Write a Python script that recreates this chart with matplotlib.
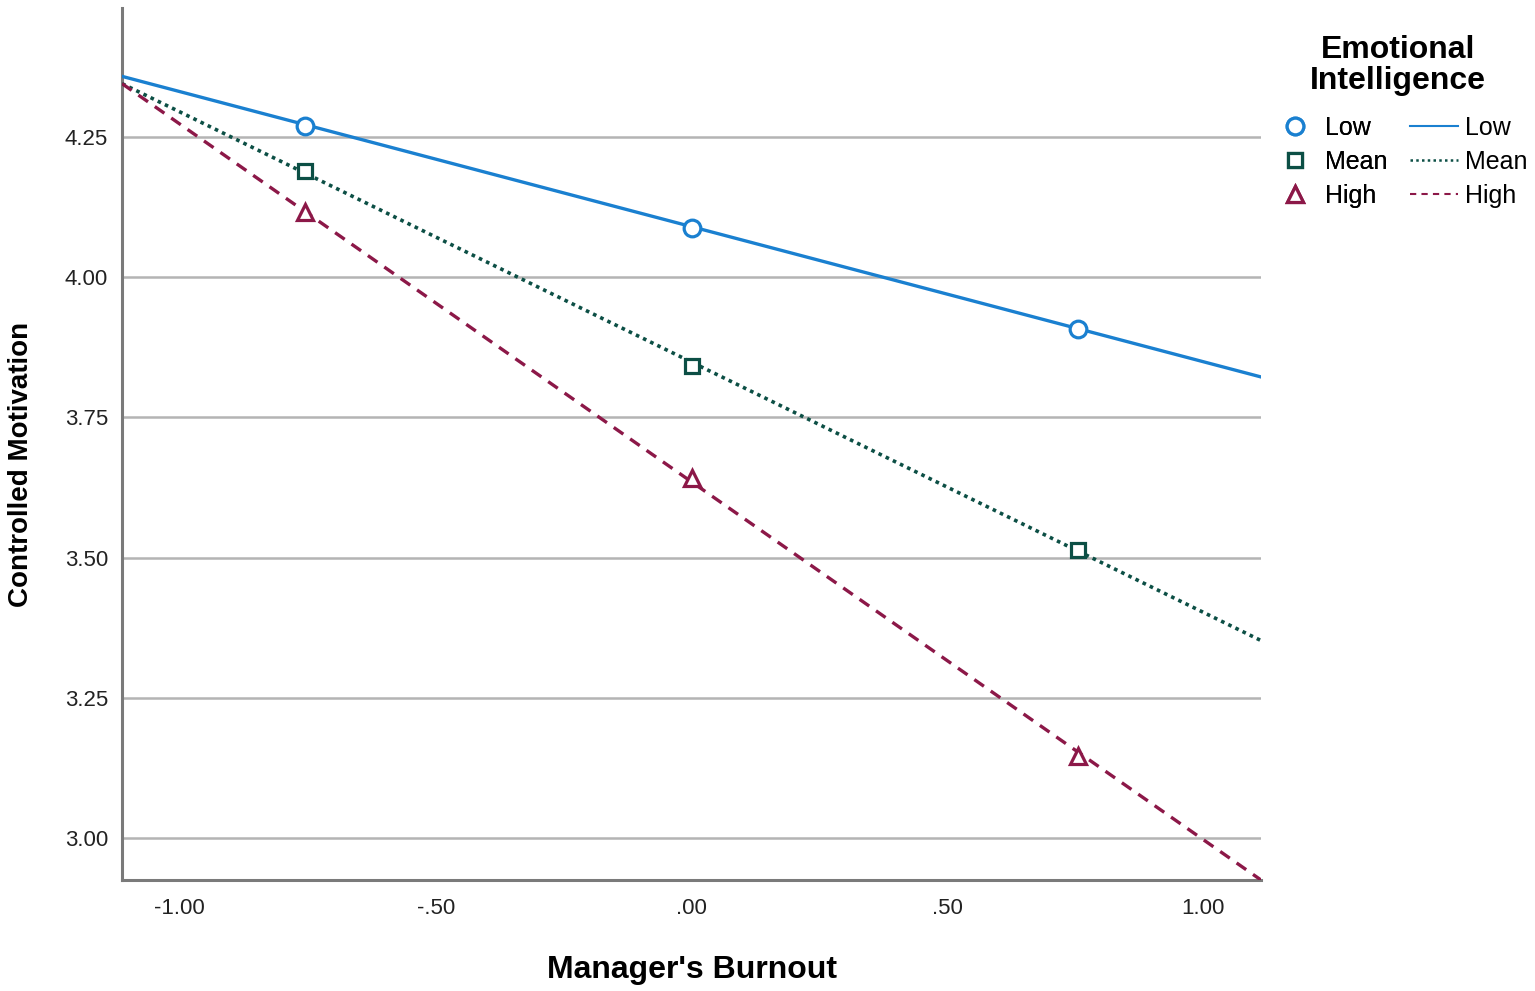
import numpy as np
import matplotlib
matplotlib.use("Agg")
import matplotlib.pyplot as plt
from matplotlib.lines import Line2D

plt.rcParams["font.family"] = ["Liberation Sans", "DejaVu Sans"]

# values
burnout_pts = [-0.755, 0.0, 0.755]
low_pts = [4.270, 4.088, 3.907]
mean_pts = [4.189, 3.841, 3.514]
high_pts = [4.116, 3.641, 3.146]

# fitted lines: value at left and right edge of the x range
line_x = [-1.113, 1.113]
low_line = [4.358, 3.822]
mean_line = [4.345, 3.352]
high_line = [4.345, 2.925]

group_names = ["Low", "Mean", "High"]
xticks = [-1.0, -0.5, 0.0, 0.5, 1.0]
xtick_labels = ["-1.00", "-.50", ".00", ".50", "1.00"]
yticks = [3.00, 3.25, 3.50, 3.75, 4.00, 4.25]

BLUE = "#1a80d0"
TEAL = "#0c4f45"
MAROON = "#8c1848"

fig = plt.figure(figsize=(15.35, 9.91), dpi=100)
ax = fig.add_axes([0.0795, 0.112, 0.742, 0.880])

for yv in yticks:
    ax.axhline(yv, color="#b4b4b4", lw=1.8, zorder=1)

ax.plot(line_x, low_line, color=BLUE, lw=2.4, ls="-", zorder=3)
ax.plot(line_x, mean_line, color=TEAL, lw=2.6, ls=(0, (1, 1.2)), zorder=3)
ax.plot(line_x, high_line, color=MAROON, lw=2.4, ls=(0, (3.5, 2.5)), zorder=3)

mk = dict(ls="none", mfc="white", mew=2.3, zorder=4)
ax.plot(burnout_pts, low_pts, marker="o", ms=12, mec=BLUE, **mk)
ax.plot(burnout_pts, mean_pts, marker="s", ms=10, mec=TEAL, **mk)
ax.plot(burnout_pts, high_pts, marker="^", ms=12, mec=MAROON, **mk)

ax.set_xlim(-1.113, 1.113)
ax.set_ylim(2.925, 4.48)
ax.set_xticks(xticks)
ax.set_xticklabels(xtick_labels)
ax.set_yticks(yticks)
ax.set_yticklabels([f"{v:.2f}" for v in yticks])
ax.tick_params(length=0, labelsize=16, labelcolor="#222222", pad=10)
ax.tick_params(axis="x", pad=13)

for s in ["top", "right"]:
    ax.spines[s].set_visible(False)
for s in ["left", "bottom"]:
    ax.spines[s].set_color("#7a7a7a")
    ax.spines[s].set_linewidth(2.2)

ax.set_xlabel("Manager's Burnout", fontsize=23, fontweight="bold", labelpad=26)
ax.set_ylabel("Controlled Motivation", fontsize=20, fontweight="bold", labelpad=22)
ax.yaxis.set_label_coords(-0.077, 0.477)

# legend: title, marker column, line column
fig.text(0.9107, 0.9496, "Emotional", ha="center", va="center",
         fontsize=23, fontweight="bold")
fig.text(0.9107, 0.9183, "Intelligence", ha="center", va="center",
         fontsize=23, fontweight="bold")

marker_handles = [
    Line2D([], [], ls="none", marker="o", ms=12, mfc="white", mec=BLUE, mew=2.3),
    Line2D([], [], ls="none", marker="s", ms=10, mfc="white", mec=TEAL, mew=2.3),
    Line2D([], [], ls="none", marker="^", ms=12, mfc="white", mec=MAROON, mew=2.3),
]
line_handles = [
    Line2D([], [], color=BLUE, lw=1.5, ls="-"),
    Line2D([], [], color=TEAL, lw=1.8, ls=(0, (1, 1.3))),
    Line2D([], [], color=MAROON, lw=1.5, ls=(0, (3, 2.5))),
]
leg1 = fig.legend(marker_handles, group_names, loc="upper left",
                  bbox_to_anchor=(0.8355, 0.883), frameon=False, fontsize=18,
                  handlelength=1.0, handletextpad=0.7, labelspacing=0.4,
                  borderaxespad=0, borderpad=0)
leg2 = fig.legend(line_handles, group_names, loc="upper left",
                  bbox_to_anchor=(0.9186, 0.883), frameon=False, fontsize=18,
                  handlelength=1.9, handletextpad=0.3, labelspacing=0.4,
                  borderaxespad=0, borderpad=0)
fig.add_artist(leg1)

fig.savefig("out.png", dpi=100)
